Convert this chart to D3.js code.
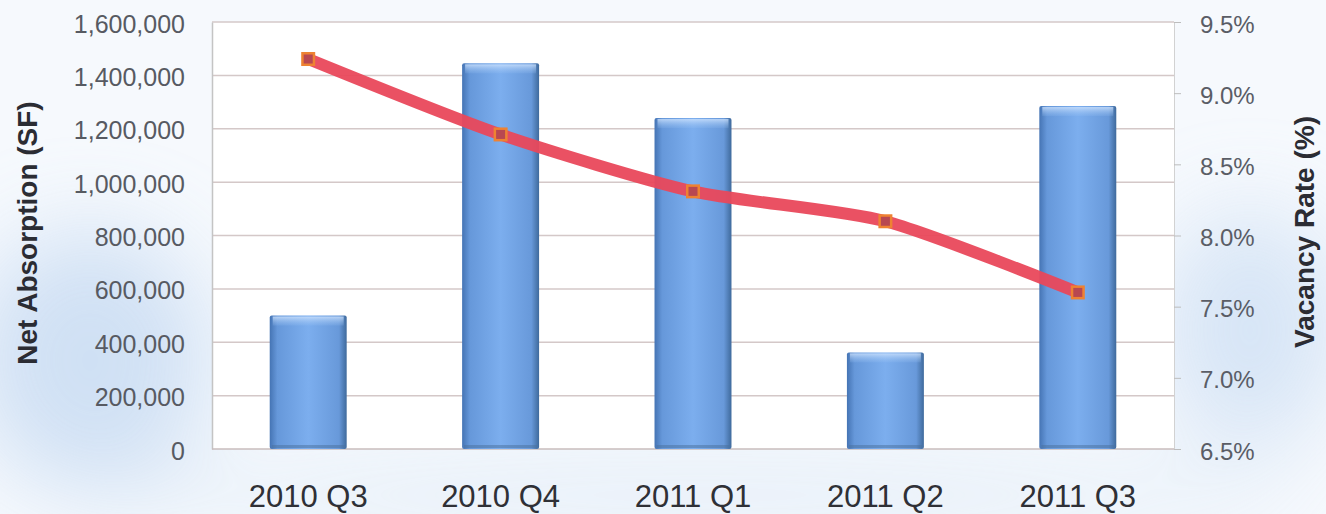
<!DOCTYPE html>
<html>
<head>
<meta charset="utf-8">
<script src="https://cdn.jsdelivr.net/npm/d3@7"></script>
<style>
  html, body { margin: 0; padding: 0; background: #fff; }
  svg { display: block; font-family: "Liberation Sans", Arial, sans-serif; }
</style>
</head>
<body>
<svg id="chart" width="1326" height="514"></svg>
<script>
// Quarterly net absorption (bars) and vacancy rate (line)
const quarters = ['2010 Q3', '2010 Q4', '2011 Q1', '2011 Q2', '2011 Q3'];
const absorption = [500000, 1445000, 1240000, 362000, 1285000];
const vacancy = [9.24, 8.71, 8.31, 8.10, 7.60];
const leftTicks = [0, 200000, 400000, 600000, 800000, 1000000, 1200000, 1400000, 1600000];
const rightTicks = [6.5, 7.0, 7.5, 8.0, 8.5, 9.0, 9.5];

const svg = d3.select('#chart');
const W = 1326, H = 514;
const plot = { left: 212, right: 1174, top: 22, bottom: 449 };

const defs = svg.append('defs');

// scanned-paper blue haze behind everything
const haze = defs.append('filter').attr('id', 'blur')
  .attr('x', '-50%').attr('y', '-50%').attr('width', '200%').attr('height', '200%');
haze.append('feGaussianBlur').attr('stdDeviation', 45);

const barGrad = defs.append('linearGradient').attr('id', 'barGrad')
  .attr('x1', 0).attr('x2', 1).attr('y1', 0).attr('y2', 0);
[[0, '#4574b4'], [0.1, '#6698da'], [0.5, '#7caeee'], [0.9, '#6899da'], [1, '#3f6a9c']]
  .forEach(([o, c]) => barGrad.append('stop').attr('offset', o).attr('stop-color', c));

const bevel = defs.append('linearGradient').attr('id', 'bevel')
  .attr('x1', 0).attr('x2', 0).attr('y1', 0).attr('y2', 1);
[[0, '#d6e8ff', 0.75], [1, '#9cc4f4', 0.15]]
  .forEach(([o, c, a]) => bevel.append('stop').attr('offset', o).attr('stop-color', c).attr('stop-opacity', a));

svg.append('rect').attr('width', W).attr('height', H).attr('fill', '#f6f9fd');
const hz = svg.append('g').attr('filter', 'url(#blur)').attr('opacity', 0.8);
hz.append('ellipse').attr('cx', 90).attr('cy', 360).attr('rx', 120).attr('ry', 130).attr('fill', '#c6daf2');
hz.append('ellipse').attr('cx', 1250).attr('cy', 330).attr('rx', 90).attr('ry', 120).attr('fill', '#cfe0f4');
hz.append('ellipse').attr('cx', 700).attr('cy', 495).attr('rx', 600).attr('ry', 30).attr('fill', '#dde9f6');

svg.append('rect')
  .attr('x', plot.left).attr('y', plot.top)
  .attr('width', plot.right - plot.left).attr('height', plot.bottom - plot.top)
  .attr('fill', '#fff');

// Scales
const x = d3.scaleBand().domain(quarters)
  .range([plot.left, plot.right]).paddingInner(0.6).paddingOuter(0.3);
const yL = d3.scaleLinear().domain([0, 1600000]).range([plot.bottom, plot.top]);
const yR = d3.scaleLinear().domain([6.5, 9.5]).range([plot.bottom, plot.top]);

// Gridlines
svg.append('g').selectAll('line').data(leftTicks.slice(1)).join('line')
  .attr('x1', plot.left).attr('x2', plot.right)
  .attr('y1', d => yL(d)).attr('y2', d => yL(d))
  .attr('stroke', '#d4c8c8').attr('stroke-width', 1.5);

// Left axis
const fmt = d3.format(',');
const gL = svg.append('g').attr('transform', `translate(${plot.left},0)`)
  .call(d3.axisLeft(yL).tickValues(leftTicks).tickFormat(fmt).tickSize(0).tickPadding(27));
gL.select('.domain').attr('stroke', '#c4c4c4').attr('stroke-width', 1.5);
gL.selectAll('text').attr('font-size', 25).attr('fill', '#575a62').attr('dy', '0.4em');

// Right axis
const gR = svg.append('g').attr('transform', `translate(${plot.right},0)`)
  .call(d3.axisRight(yR).tickValues(rightTicks).tickFormat(d => d.toFixed(1) + '%').tickSize(7).tickPadding(19));
gR.select('.domain').attr('stroke', '#d2d2d2').attr('stroke-width', 1);
gR.selectAll('line').attr('stroke', '#bdbdbd');
gR.selectAll('text').attr('font-size', 24).attr('fill', '#5a5d66').attr('dy', '0.42em');

// Bottom baseline
svg.append('line')
  .attr('x1', plot.left).attr('x2', plot.right)
  .attr('y1', plot.bottom).attr('y2', plot.bottom)
  .attr('stroke', '#c8bcbc').attr('stroke-width', 1.5);

// Bars
const bars = svg.append('g').selectAll('g').data(quarters).join('g');
bars.append('rect')
  .attr('x', d => x(d)).attr('width', x.bandwidth())
  .attr('y', (d, i) => yL(absorption[i]))
  .attr('height', (d, i) => yL(0) - yL(absorption[i]))
  .attr('rx', 2)
  .attr('fill', 'url(#barGrad)');
bars.append('rect')
  .attr('x', d => x(d) + 3).attr('width', x.bandwidth() - 6)
  .attr('y', (d, i) => yL(absorption[i]) + 1)
  .attr('height', 9)
  .attr('fill', 'url(#bevel)');
bars.append('rect')
  .attr('x', d => x(d) + 2).attr('width', x.bandwidth() - 4)
  .attr('y', plot.bottom - 4).attr('height', 3)
  .attr('fill', '#4a6f9c').attr('opacity', 0.5);

// Vacancy line
const cx = d => x(d) + x.bandwidth() / 2;
const line = d3.line()
  .x(d => cx(d))
  .y((d, i) => yR(vacancy[i]))
  .curve(d3.curveCardinal.tension(0.3));
svg.append('path').datum(quarters)
  .attr('d', line)
  .attr('fill', 'none')
  .attr('stroke', '#e9485b')
  .attr('stroke-width', 12)
  .attr('stroke-linejoin', 'round')
  .attr('opacity', 0.95);

const marks = svg.append('g').selectAll('g').data(quarters).join('g')
  .attr('transform', (d, i) => `translate(${cx(d)},${yR(vacancy[i])})`);
marks.append('rect').attr('x', -7).attr('y', -7).attr('width', 14).attr('height', 14)
  .attr('fill', '#ee8232');
marks.append('rect').attr('x', -4.5).attr('y', -4.5).attr('width', 9).attr('height', 9)
  .attr('fill', '#a6345c').attr('opacity', 0.75);

// Category labels
svg.append('g').selectAll('text').data(quarters).join('text')
  .attr('x', d => cx(d)).attr('y', 507)
  .attr('text-anchor', 'middle')
  .attr('font-size', 31)
  .attr('fill', '#2f3036')
  .text(d => d);

// Axis titles
svg.append('text')
  .attr('transform', 'translate(37,233) rotate(-90)')
  .attr('text-anchor', 'middle')
  .attr('font-size', 28).attr('font-weight', 'bold').attr('fill', '#2b2c33')
  .text('Net Absorption (SF)');
svg.append('text')
  .attr('transform', 'translate(1314,232) rotate(-90)')
  .attr('text-anchor', 'middle')
  .attr('font-size', 28).attr('font-weight', 'bold').attr('fill', '#2b2c33')
  .text('Vacancy Rate (%)');
</script>
</body>
</html>
